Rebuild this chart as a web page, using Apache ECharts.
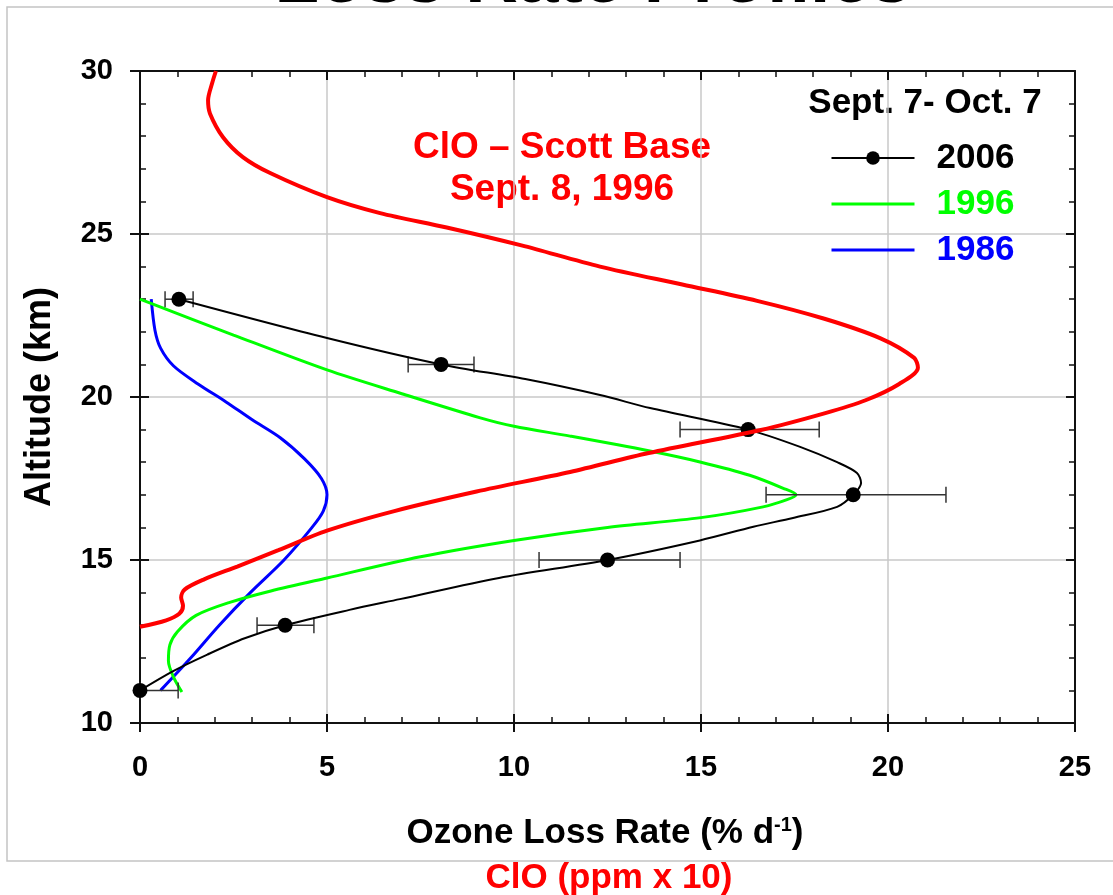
<!DOCTYPE html>
<html>
<head>
<meta charset="utf-8">
<script src="https://cdn.jsdelivr.net/npm/echarts@6/dist/echarts.min.js"></script>
<style>
  html, body { margin: 0; padding: 0; background: #fff; }
  #chart { width: 1113px; height: 895px; }
</style>
</head>
<body>
<div id="chart"></div>
<script>
// Ozone loss rate 2006: measured altitudes (km), rates (% per day) and error bar ends
const alt2006 = [11, 13, 15, 17, 19, 21, 23];
const rate2006 = [0, 3.88, 12.5, 19.07, 16.26, 8.05, 1.04];
const errLow2006 = [0, 3.13, 10.67, 16.74, 14.44, 7.17, 0.67];
const errHigh2006 = [1.02, 4.65, 14.44, 21.55, 18.16, 8.93, 1.42];

// 2006 fitted profile through the measurements: [rate, altitude]
const fit2006 = [
  [0, 11], [0.9, 11.6], [1.8, 12.1], [2.8, 12.6], [3.88, 13], [5.6, 13.47],
  [6.95, 13.8], [9.6, 14.45], [12.5, 15], [14.97, 15.6], [16.4, 16.02], [17.46, 16.29],
  [18.64, 16.63], [19.07, 17], [19.28, 17.36], [19.17, 17.67], [18.64, 18.0],
  [17.65, 18.47], [16.26, 19], [13.64, 19.66], [12.3, 20.06], [10.3, 20.55],
  [8.05, 21], [5.0, 21.81], [1.04, 23]
];

// 1996 loss rate profile: [rate, altitude]
const profile1996 = [
  [1.12, 10.95], [0.9, 11.4], [0.76, 11.9], [0.8, 12.4], [1.0, 12.8], [1.5, 13.3],
  [2.4, 13.7], [3.5, 14.05], [5.0, 14.45], [7.5, 15.1], [10.0, 15.6], [12.5, 16.0],
  [15.0, 16.3], [16.66, 16.63], [17.3, 16.85], [17.54, 17.0], [17.2, 17.2], [16.3, 17.6],
  [15.0, 18.0], [13.6, 18.35], [11.5, 18.8], [10.0, 19.1], [9.1, 19.36], [7.0, 20.1],
  [5.0, 20.83], [2.5, 21.9], [0, 23.0]
];

// 1986 loss rate profile: [rate, altitude]
const profile1986 = [
  [0.55, 11], [1.36, 12], [2.12, 13], [2.95, 14], [3.85, 15], [4.6, 16], [4.9, 16.5],
  [5.0, 17], [4.85, 17.5], [4.4, 18.1], [3.75, 18.75], [3.0, 19.3], [2.3, 19.85],
  [1.55, 20.4], [0.9, 20.95], [0.55, 21.5], [0.4, 22.05], [0.3, 23.0]
];

// ClO over Scott Base, 8 Sept 1996: [ppm x 10, altitude]
const cloScottBase = [
  [0, 12.95], [0.7, 13.15], [1.05, 13.35], [1.15, 13.6], [1.1, 13.85], [1.2, 14.1],
  [1.7, 14.4], [2.6, 14.8], [3.7, 15.3], [5.0, 15.9], [6.8, 16.5], [9.0, 17.1],
  [11.5, 17.7], [13.6, 18.28], [16.6, 18.99], [18.3, 19.5], [19.4, 19.9], [20.3, 20.4],
  [20.8, 20.9], [20.7, 21.2], [19.8, 21.8], [18.3, 22.4], [16.5, 22.95], [14.5, 23.45],
  [12.3, 24.0], [10.2, 24.65], [8.2, 25.2], [6.42, 25.64], [5.0, 26.13], [3.48, 26.87],
  [2.75, 27.36], [2.22, 27.97], [1.87, 28.7], [1.82, 29.1], [1.93, 29.63], [2.03, 30.0]
];

const FONT = '"Liberation Sans", Arial, Helvetica, sans-serif';
const chart = echarts.init(document.getElementById('chart'), null, { renderer: 'canvas' });

const labelStyle = { fontSize: 29, fontWeight: 'bold', color: '#000', fontFamily: FONT };
const majorTick = (len, inside) => ({ show: true, inside, length: len, lineStyle: { color: '#111', width: 2 } });
const minorTick = { show: true, splitNumber: 5, length: 6, lineStyle: { color: '#111', width: 1.5 } };
const gridLine = { show: true, lineStyle: { color: '#c8c8c8', width: 1.5 } };
const axisLine = { show: true, onZero: false, lineStyle: { color: '#111', width: 2 } };

const xBase = { type: 'value', min: 0, max: 25, interval: 5 };
const yBase = { type: 'value', min: 10, max: 30, interval: 5 };

chart.setOption({
  animation: false,
  backgroundColor: '#fff',
  grid: { left: 140, right: 38, top: 71, bottom: 172, containLabel: false },
  xAxis: [
    Object.assign({}, xBase, {
      position: 'bottom', axisLine, axisTick: majorTick(9, false),
      axisLabel: Object.assign({ margin: 30 }, labelStyle), splitLine: gridLine
    }),
    Object.assign({}, xBase, {
      position: 'bottom', axisLine: { show: false }, axisTick: majorTick(9, true),
      minorTick, axisLabel: { show: false }, splitLine: { show: false }
    }),
    Object.assign({}, xBase, {
      position: 'top', axisLine, axisTick: majorTick(9, true),
      minorTick, axisLabel: { show: false }, splitLine: { show: false }
    })
  ],
  yAxis: [
    Object.assign({}, yBase, {
      position: 'left', axisLine, axisTick: majorTick(10, false),
      axisLabel: Object.assign({ margin: 27 }, labelStyle), splitLine: gridLine
    }),
    Object.assign({}, yBase, {
      position: 'left', axisLine: { show: false }, axisTick: majorTick(9, true),
      minorTick, axisLabel: { show: false }, splitLine: { show: false }
    }),
    Object.assign({}, yBase, {
      position: 'right', axisLine, axisTick: majorTick(9, true),
      minorTick, axisLabel: { show: false }, splitLine: { show: false }
    })
  ],
  legend: {
    left: 830, top: 140, padding: 0, orient: 'vertical', itemWidth: 83, itemHeight: 17, itemGap: 10,
    selectedMode: false,
    textStyle: { fontSize: 35, fontWeight: 'bold', fontFamily: FONT, lineHeight: 36, padding: [0, 0, 0, 17] },
    data: [
      { name: '2006', textStyle: { color: '#000' }, lineStyle: { width: 2 } },
      { name: '1996', textStyle: { color: '#00ff00' }, itemStyle: { opacity: 0 }, lineStyle: { width: 3 } },
      { name: '1986', textStyle: { color: '#0000ff' }, itemStyle: { opacity: 0 }, lineStyle: { width: 3 } }
    ]
  },
  series: [
    {
      name: '1986', type: 'line', data: profile1986, symbol: 'none', smooth: 0.3, z: 2,
      lineStyle: { color: '#0000ff', width: 3 }, itemStyle: { color: '#0000ff' }
    },
    {
      name: '1996', type: 'line', data: profile1996, symbol: 'none', smooth: 0.3, z: 2,
      lineStyle: { color: '#00ff00', width: 3 }, itemStyle: { color: '#00ff00' }
    },
    {
      name: '2006', type: 'line', data: fit2006, symbol: 'none', smooth: 0.3, z: 3,
      lineStyle: { color: '#000', width: 2 }, itemStyle: { color: '#000' }
    },
    {
      name: '2006 error', type: 'custom', z: 3,
      data: alt2006.map((a, i) => [errLow2006[i], errHigh2006[i], a]),
      encode: { x: [0, 1], y: 2 },
      renderItem(params, api) {
        const lo = api.coord([api.value(0), api.value(2)]);
        const hi = api.coord([api.value(1), api.value(2)]);
        const h = 8;
        const st = { stroke: '#333', lineWidth: 1.5 };
        return {
          type: 'group',
          children: [
            { type: 'line', shape: { x1: lo[0], y1: lo[1], x2: hi[0], y2: hi[1] }, style: st },
            { type: 'line', shape: { x1: lo[0], y1: lo[1] - h, x2: lo[0], y2: lo[1] + h }, style: st },
            { type: 'line', shape: { x1: hi[0], y1: hi[1] - h, x2: hi[0], y2: hi[1] + h }, style: st }
          ]
        };
      }
    },
    {
      name: '2006 measured', type: 'scatter', z: 3,
      data: alt2006.map((a, i) => [rate2006[i], a]),
      symbol: 'circle', symbolSize: 15, itemStyle: { color: '#000', opacity: 1 }
    },
    {
      name: 'ClO', type: 'line', data: cloScottBase, symbol: 'none', smooth: 0.3, z: 4,
      lineStyle: { color: '#ff0000', width: 4 }, itemStyle: { color: '#ff0000' }
    }
  ],
  graphic: [
    {
      type: 'rect', silent: true, z: -10,
      shape: { x: 7, y: 7, width: 1130, height: 854 },
      style: { fill: 'none', stroke: '#c4c4c4', lineWidth: 1.5 }
    },
    {
      type: 'text', x: 593, y: -18,
      style: { text: 'Loss Rate Profiles', font: 'bold 73px ' + FONT, fill: '#000', align: 'center', verticalAlign: 'middle' }
    },
    {
      type: 'text', x: 925, y: 103,
      style: { text: 'Sept. 7- Oct. 7', font: 'bold 35px ' + FONT, fill: '#000', align: 'center', verticalAlign: 'middle' }
    },
    {
      type: 'text', x: 562, y: 148,
      style: { text: 'ClO \u2013 Scott Base', font: 'bold 37px ' + FONT, fill: '#ff0000', align: 'center', verticalAlign: 'middle' }
    },
    {
      type: 'text', x: 562, y: 190,
      style: { text: 'Sept. 8, 1996', font: 'bold 37px ' + FONT, fill: '#ff0000', align: 'center', verticalAlign: 'middle' }
    },
    {
      type: 'text', x: 40, y: 397, rotation: Math.PI / 2,
      style: { text: 'Altitude (km)', font: 'bold 36px ' + FONT, fill: '#000', align: 'center', verticalAlign: 'middle' }
    },
    {
      type: 'text', x: 605, y: 833,
      style: {
        text: '{a|Ozone Loss Rate (% d}{s|-1}{a|)}', align: 'center', verticalAlign: 'middle',
        rich: {
          a: { font: 'bold 35px ' + FONT, fill: '#000', color: '#000' },
          s: { font: 'bold 20px ' + FONT, fill: '#000', color: '#000', verticalAlign: 'top' }
        }
      }
    },
    {
      type: 'text', x: 609, y: 878,
      style: { text: 'ClO (ppm x 10)', font: 'bold 35px ' + FONT, fill: '#ff0000', align: 'center', verticalAlign: 'middle' }
    }
  ]
});
</script>
</body>
</html>
